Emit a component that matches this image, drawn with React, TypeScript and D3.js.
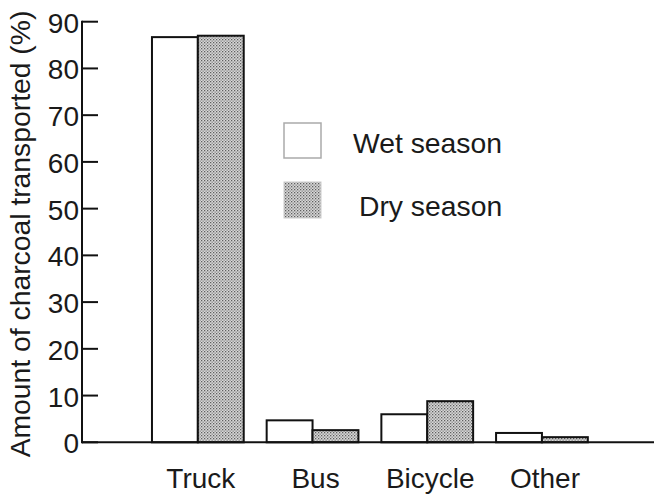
import React from "react";
import * as d3 from "d3";

const categories = ["Truck", "Bus", "Bicycle", "Other"];
const wetSeason = [86.7, 4.7, 6.0, 2.0];
const drySeason = [87.0, 2.6, 8.8, 1.1];
const yTicks = [0, 10, 20, 30, 40, 50, 60, 70, 80, 90];
const seriesNames = ["Wet season", "Dry season"];
const yTitle = "Amount of charcoal transported (%)";

const W = 654;
const H = 496;
const FONT = "'Liberation Sans', Arial, sans-serif";

export default function App() {
  const axisX = 82;
  const y = d3.scaleLinear().domain([0, 90]).range([442.3, 21.7]);
  const x = d3
    .scaleBand<string>()
    .domain(categories)
    .range([140.5, 599.3])
    .paddingInner(0.2)
    .paddingOuter(0.1);
  const sub = d3
    .scaleBand<string>()
    .domain(seriesNames)
    .range([0, x.bandwidth()]);

  const series = [wetSeason, drySeason];
  const fills = ["#ffffff", "url(#stipple)"];

  return (
    <svg
      width={W}
      height={H}
      style={{ position: "absolute", left: 0, top: 0, background: "#fff" }}
      fontFamily={FONT}
    >
      <defs>
        <pattern id="stipple" width={3} height={3} patternUnits="userSpaceOnUse">
          <rect width={3} height={3} fill="#d8d8d8" />
          <rect x={0} y={0} width={1.3} height={1.3} fill="#5f5f5f" />
          <rect x={1.5} y={1.5} width={1.3} height={1.3} fill="#828282" />
        </pattern>
      </defs>

      {/* bars */}
      {categories.map((c, i) =>
        series.map((s, j) => {
          const x0 = (x(c) as number) + (sub(seriesNames[j]) as number);
          return (
            <rect
              key={c + j}
              x={x0}
              y={y(s[i])}
              width={sub.bandwidth()}
              height={y(0) - y(s[i])}
              fill={fills[j]}
              stroke="#111"
              strokeWidth={2}
            />
          );
        })
      )}

      {/* axes */}
      <line x1={axisX} x2={axisX} y1={y(90) - 1} y2={y(0) + 1} stroke="#111" strokeWidth={2} />
      <line x1={axisX} x2={W} y1={y(0)} y2={y(0)} stroke="#111" strokeWidth={2} />
      {yTicks.map((t) => (
        <g key={t}>
          <line x1={axisX} x2={axisX + 16} y1={y(t)} y2={y(t)} stroke="#111" strokeWidth={2} />
          <text
            x={79}
            y={y(t) + 11}
            textAnchor="end"
            fontSize={28}
            fill="#1a1a1a"
          >
            {t}
          </text>
        </g>
      ))}

      {/* category labels */}
      {categories.map((c) => (
        <text
          key={c}
          x={(x(c) as number) + x.bandwidth() / 2 + 3}
          y={488}
          textAnchor="middle"
          fontSize={28}
          fill="#1a1a1a"
        >
          {c}
        </text>
      ))}

      {/* y title */}
      <text
        transform={`translate(30,234) rotate(-90)`}
        textAnchor="middle"
        fontSize={28.3}
        fill="#1a1a1a"
      >
        {yTitle}
      </text>

      {/* legend */}
      <rect x={284} y={123} width={37} height={35} fill="#fff" stroke="#aaa" strokeWidth={1.5} />
      <rect x={284} y={182} width={37} height={36} fill="url(#stipple)" stroke="#ccc" strokeWidth={1} />
      <text x={353} y={153} fontSize={28.3} fill="#1a1a1a">
        {seriesNames[0]}
      </text>
      <text x={359} y={216} fontSize={28.3} fill="#1a1a1a">
        {seriesNames[1]}
      </text>
    </svg>
  );
}
